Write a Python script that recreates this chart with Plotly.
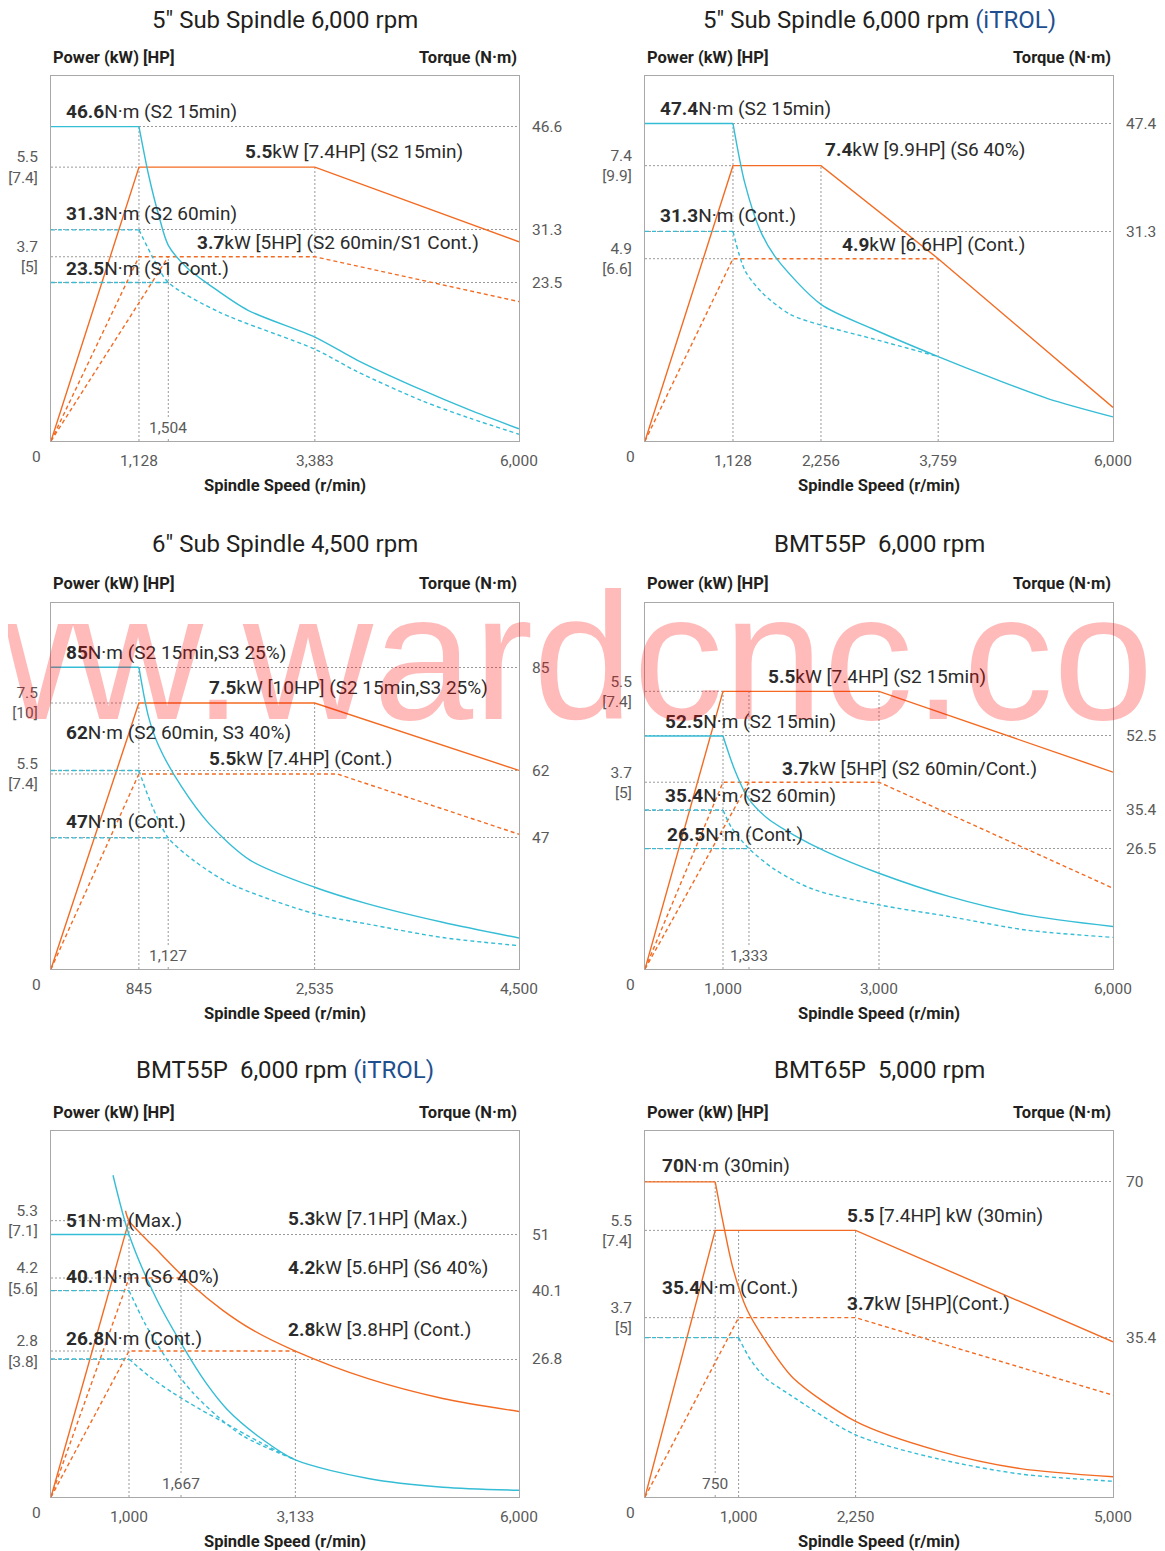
import plotly.graph_objects as go

W, H = 1165, 1551
OFF = 8  # the page body margin: the figure starts 8px in from the window corner
ORANGE = "#f36b22"
CYAN = "#35bdd6"
GRID = "#9a9a9a"
FRAME = "#a8a8a8"
TXT = "#231f20"
TICK = "#5a5a5a"
BLUE = "#1f4f8f"
FONT = "Roboto, 'Noto Sans', sans-serif"
SOLID = "solid"
DASH = "4px,3px"
DOT = "2px,2px"

# ---------------- data ----------------
# 1) 5" Sub Spindle 6,000 rpm
c1_x_ticks = [1128, 3383, 6000]
c1_x_inner = [1504]
c1_kw_ticks = [5.5, 3.7]
c1_hp_ticks = [7.4, 5]
c1_nm_ticks = [46.6, 31.3, 23.5]
c1_rpm_p15 = [0, 1128, 3383, 6000]
c1_kw_p15 = [0, 5.5, 5.5, 4.0]
c1_rpm_p60 = [0, 1128, 3383, 6000]
c1_kw_p60 = [0, 3.7, 3.7, 2.8]
c1_rpm_pcont = [0, 1504]
c1_kw_pcont = [0, 3.7]
c1_rpm_t15 = [0, 1128, 1250, 1380, 1504, 1750, 2048, 2520, 3383, 3923, 4747, 5365, 6000]
c1_nm_t15 = [46.6, 46.6, 39.5, 33.5, 29.0, 25.6, 23.0, 19.4, 15.4, 12.0, 7.6, 4.6, 1.8]
c1_rpm_t60 = [0, 1128, 1310, 1504, 2157, 3383, 3923, 4747, 5365, 6000]
c1_nm_t60 = [31.3, 31.3, 27.1, 23.5, 19.1, 13.6, 10.3, 6.0, 3.4, 1.0]
c1_rpm_tcont = [0, 1504]
c1_nm_tcont = [23.5, 23.5]

# 2) 5" Sub Spindle 6,000 rpm (iTROL)
c2_x_ticks = [1128, 2256, 3759, 6000]
c2_kw_ticks = [7.4, 4.9]
c2_hp_ticks = [9.9, 6.6]
c2_nm_ticks = [47.4, 31.3]
c2_rpm_ps6 = [0, 1128, 2256, 3759, 6000]
c2_kw_ps6 = [0, 7.4, 7.4, 4.9, 0.9]
c2_rpm_pcont = [0, 1128, 3759]
c2_kw_pcont = [0, 4.9, 4.9]
c2_rpm_t15 = [0, 1128, 1280, 1482, 1683, 2256, 2908, 3759, 4475, 5172, 6000]
c2_nm_t15 = [47.4, 47.4, 38.5, 31.3, 27.3, 20.4, 16.8, 12.6, 9.3, 6.3, 3.6]
c2_rpm_tcont = [0, 1128, 1280, 1504, 1862, 2256, 2908, 3759]
c2_nm_tcont = [31.3, 31.3, 25.5, 22.1, 18.9, 17.3, 15.3, 12.6]

# 3) 6" Sub Spindle 4,500 rpm
c3_x_ticks = [845, 2535, 4500]
c3_x_inner = [1127]
c3_kw_ticks = [7.5, 5.5]
c3_hp_ticks = [10, 7.4]
c3_nm_ticks = [85, 62, 47]
c3_rpm_p15 = [0, 845, 2535, 4500]
c3_kw_p15 = [0, 7.5, 7.5, 5.6]
c3_rpm_pcont = [0, 845, 2751, 4500]
c3_kw_pcont = [0, 5.5, 5.5, 3.8]
c3_rpm_t15 = [0, 845, 937, 1035, 1252, 1526, 1917, 2535, 3046, 3766, 4500]
c3_nm_t15 = [85, 85, 74.0, 67.5, 58.5, 50.0, 42.0, 36.0, 32.3, 28.2, 24.7]
c3_rpm_t60 = [0, 845, 970, 1127, 1370, 1721, 2535, 3046, 3766, 4500]
c3_nm_t60 = [62, 62, 54.2, 47, 42.0, 36.8, 30.1, 27.8, 24.8, 23.0]
c3_rpm_tcont = [0, 1127]
c3_nm_tcont = [47, 47]

# 4) BMT55P 6,000 rpm
c4_x_ticks = [1000, 3000, 6000]
c4_x_inner = [1333]
c4_kw_ticks = [5.5, 3.7]
c4_hp_ticks = [7.4, 5]
c4_nm_ticks = [52.5, 35.4, 26.5]
c4_rpm_p15 = [0, 1000, 3000, 6000]
c4_kw_p15 = [0, 5.5, 5.5, 3.9]
c4_rpm_p60 = [0, 1000, 3000, 6000]
c4_kw_p60 = [0, 3.7, 3.7, 1.6]
c4_rpm_pcont = [0, 1333]
c4_kw_pcont = [0, 3.7]
c4_rpm_t15 = [0, 1000, 1149, 1320, 1569, 1920, 2322, 3000, 3905, 4884, 6000]
c4_nm_t15 = [52.5, 52.5, 44.7, 38.2, 33.5, 29.5, 25.8, 20.8, 15.4, 11.2, 8.5]
c4_rpm_t60 = [0, 1000, 1107, 1333, 1669, 2171, 3000, 3905, 4884, 6000]
c4_nm_t60 = [35.4, 35.4, 31.4, 26.5, 21.6, 17.0, 13.5, 10.8, 7.7, 6.0]
c4_rpm_tcont = [0, 1333]
c4_nm_tcont = [26.5, 26.5]

# 5) BMT55P 6,000 rpm (iTROL)
c5_x_ticks = [1000, 3133, 6000]
c5_x_inner = [1667]
c5_kw_ticks = [5.3, 4.2, 2.8]
c5_hp_ticks = [7.1, 5.6, 3.8]
c5_nm_ticks = [51, 40.1, 26.8]
c5_rpm_prise = [0, 1000]
c5_kw_prise = [0, 5.3]
c5_rpm_pmax = [955, 1000, 1351, 1817, 2203, 2589, 3133, 4066, 5023, 6000]
c5_kw_pmax = [5.49, 5.3, 4.75, 4.05, 3.58, 3.2, 2.8, 2.27, 1.89, 1.64]
c5_rpm_ps6 = [0, 1000, 1667]
c5_kw_ps6 = [0, 4.2, 4.2]
c5_rpm_pcont = [0, 1000, 3133]
c5_kw_pcont = [0, 2.8, 2.8]
c5_rpm_tflat = [0, 1000]
c5_nm_tflat = [51, 51]
c5_rpm_tmax = [795, 1000, 1351, 1701, 1971, 2259, 2683, 3133, 4066, 5023, 6000]
c5_nm_tmax = [62.5, 51, 38.5, 29.0, 22.5, 17.0, 11.5, 7.2, 3.6, 1.9, 1.3]
c5_rpm_ts6 = [0, 1000, 1194, 1349, 1556, 1816, 2124, 2469, 3133]
c5_nm_ts6 = [40.1, 40.1, 34.0, 30.0, 25.2, 20.3, 15.8, 11.8, 7.2]
c5_rpm_tcont = [0, 1000, 1246, 1556, 1893, 2202, 2683, 3133]
c5_nm_tcont = [26.8, 26.8, 23.6, 20.3, 17.2, 14.6, 10.6, 7.2]

# 6) BMT65P 5,000 rpm
c6_x_ticks = [1000, 2250, 5000]
c6_x_inner = [750]
c6_kw_ticks = [5.5, 3.7]
c6_hp_ticks = [7.4, 5]
c6_nm_ticks = [70, 35.4]
c6_rpm_p30 = [0, 750, 2250, 5000]
c6_kw_p30 = [0, 5.5, 5.5, 3.2]
c6_rpm_pcont = [0, 1000, 2250, 5000]
c6_kw_pcont = [0, 3.7, 3.7, 2.1]
c6_rpm_t30 = [0, 750, 828, 936, 1088, 1322, 1585, 2250, 3144, 4011, 5000]
c6_nm_t30 = [70, 70, 61.6, 51.1, 41.7, 33.6, 26.4, 16.8, 10.2, 6.3, 4.5]
c6_rpm_tcont = [0, 1000, 1124, 1289, 1541, 2250, 3144, 4011, 5000]
c6_nm_tcont = [35.4, 35.4, 30.6, 26.4, 22.8, 13.8, 8.4, 5.1, 3.5]

ITROL = ' <span style="color:%s">(iTROL)</span>' % BLUE

charts = [
    dict(title="5″ Sub Spindle 6,000 rpm", box=(51, 76, 519, 441), title_y=20,
         xticks=c1_x_ticks, xinner=c1_x_inner, prange=[0, 7.33], trange=[0, 54.1],
         kw=c1_kw_ticks, hp=c1_hp_ticks, nm=c1_nm_ticks,
         series=[(c1_rpm_p15, c1_kw_p15, "p", ORANGE, SOLID, False),
                 (c1_rpm_p60, c1_kw_p60, "p", ORANGE, DASH, False),
                 (c1_rpm_pcont, c1_kw_pcont, "p", ORANGE, DASH, False),
                 (c1_rpm_t15, c1_nm_t15, "t", CYAN, SOLID, True),
                 (c1_rpm_t60, c1_nm_t60, "t", CYAN, DASH, True),
                 (c1_rpm_tcont, c1_nm_tcont, "t", CYAN, DASH, False)],
         vguides=[(1128, "t", 46.6), (3383, "p", 5.5), (1504, "p", 3.7)],
         hguides=[(5.5, 1128), (3.7, 1128)],
         labels=[("<b>46.6</b>N·m (S2 15min)", 64, 111),
                 ("<b>5.5</b>kW [7.4HP] (S2 15min)", 243, 151),
                 ("<b>31.3</b>N·m (S2 60min)", 64, 213),
                 ("<b>3.7</b>kW [5HP] (S2 60min/S1 Cont.)", 195, 242),
                 ("<b>23.5</b>N·m (S1 Cont.)", 64, 268)]),
    dict(title="5″ Sub Spindle 6,000 rpm" + ITROL, box=(645, 76, 1113, 441), title_y=20,
         xticks=c2_x_ticks, xinner=[], prange=[0, 9.81], trange=[0, 54.5],
         kw=c2_kw_ticks, hp=c2_hp_ticks, nm=c2_nm_ticks,
         series=[(c2_rpm_ps6, c2_kw_ps6, "p", ORANGE, SOLID, False),
                 (c2_rpm_pcont, c2_kw_pcont, "p", ORANGE, DASH, False),
                 (c2_rpm_t15, c2_nm_t15, "t", CYAN, SOLID, True),
                 (c2_rpm_tcont, c2_nm_tcont, "t", CYAN, DASH, True)],
         vguides=[(1128, "t", 47.4), (2256, "p", 7.4), (3759, "p", 4.9)],
         hguides=[(7.4, 1128), (4.9, 1128)],
         labels=[("<b>47.4</b>N·m (S2 15min)", 658, 108),
                 ("<b>7.4</b>kW [9.9HP] (S6 40%)", 823, 150),
                 ("<b>31.3</b>N·m (Cont.)", 658, 215),
                 ("<b>4.9</b>kW [6.6HP] (Cont.)", 840, 244)]),
    dict(title="6″ Sub Spindle 4,500 rpm", box=(51, 603, 519, 969), title_y=544,
         xticks=c3_x_ticks, xinner=c3_x_inner, prange=[0, 10.32], trange=[17.8, 99.3],
         kw=c3_kw_ticks, hp=c3_hp_ticks, nm=c3_nm_ticks,
         series=[(c3_rpm_p15, c3_kw_p15, "p", ORANGE, SOLID, False),
                 (c3_rpm_pcont, c3_kw_pcont, "p", ORANGE, DASH, False),
                 (c3_rpm_t15, c3_nm_t15, "t", CYAN, SOLID, True),
                 (c3_rpm_t60, c3_nm_t60, "t", CYAN, DASH, True),
                 (c3_rpm_tcont, c3_nm_tcont, "t", CYAN, DASH, False)],
         vguides=[(845, "t", 85), (2535, "p", 7.5), (1127, "t", 47)],
         hguides=[(7.5, 845), (5.5, 845)],
         labels=[("<b>85</b>N·m (S2 15min,S3 25%)", 64, 652),
                 ("<b>7.5</b>kW [10HP] (S2 15min,S3 25%)", 207, 687),
                 ("<b>62</b>N·m (S2 60min, S3 40%)", 64, 732),
                 ("<b>5.5</b>kW [7.4HP] (Cont.)", 207, 759),
                 ("<b>47</b>N·m (Cont.)", 64, 822)]),
    dict(title="BMT55P\u00a0 6,000 rpm", box=(645, 603, 1113, 969), title_y=544,
         xticks=c4_x_ticks, xinner=c4_x_inner, prange=[0, 7.25], trange=[-1.3, 83.2],
         kw=c4_kw_ticks, hp=c4_hp_ticks, nm=c4_nm_ticks,
         series=[(c4_rpm_p15, c4_kw_p15, "p", ORANGE, SOLID, False),
                 (c4_rpm_p60, c4_kw_p60, "p", ORANGE, DASH, False),
                 (c4_rpm_pcont, c4_kw_pcont, "p", ORANGE, DASH, False),
                 (c4_rpm_t15, c4_nm_t15, "t", CYAN, SOLID, True),
                 (c4_rpm_t60, c4_nm_t60, "t", CYAN, DASH, True),
                 (c4_rpm_tcont, c4_nm_tcont, "t", CYAN, DASH, False)],
         vguides=[(1000, "p", 5.5), (3000, "p", 5.5), (1333, "p", 5.5)],
         hguides=[(5.5, 1000), (3.7, 1000)],
         labels=[("<b>5.5</b>kW [7.4HP] (S2 15min)", 766, 676),
                 ("<b>52.5</b>N·m (S2 15min)", 663, 722),
                 ("<b>35.4</b>N·m (S2 60min)", 663, 795),
                 ("<b>3.7</b>kW [5HP] (S2 60min/Cont.)", 780, 768),
                 ("<b>26.5</b>N·m (Cont.)", 665, 834)]),
    dict(title="BMT55P\u00a0 6,000 rpm" + ITROL, box=(51, 1131, 519, 1497), title_y=1070,
         xticks=c5_x_ticks, xinner=c5_x_inner, prange=[0, 7.02], trange=[0, 71.1],
         kw=c5_kw_ticks, hp=c5_hp_ticks, nm=c5_nm_ticks,
         series=[(c5_rpm_prise, c5_kw_prise, "p", ORANGE, SOLID, False),
                 (c5_rpm_pmax, c5_kw_pmax, "p", ORANGE, SOLID, True),
                 (c5_rpm_ps6, c5_kw_ps6, "p", ORANGE, DASH, False),
                 (c5_rpm_pcont, c5_kw_pcont, "p", ORANGE, DASH, False),
                 (c5_rpm_tflat, c5_nm_tflat, "t", CYAN, SOLID, False),
                 (c5_rpm_tmax, c5_nm_tmax, "t", CYAN, SOLID, True),
                 (c5_rpm_ts6, c5_nm_ts6, "t", CYAN, DASH, True),
                 (c5_rpm_tcont, c5_nm_tcont, "t", CYAN, DASH, True)],
         vguides=[(1000, "p", 5.3), (3133, "p", 2.8), (1667, "p", 4.2)],
         hguides=[(5.3, 1000), (4.2, 1000), (2.8, 1000)],
         labels=[("<b>51</b>N·m (Max.)", 64, 1220),
                 ("<b>5.3</b>kW [7.1HP] (Max.)", 286, 1218),
                 ("<b>40.1</b>N·m (S6 40%)", 64, 1276),
                 ("<b>4.2</b>kW [5.6HP] (S6 40%)", 286, 1267),
                 ("<b>26.8</b>N·m (Cont.)", 64, 1338),
                 ("<b>2.8</b>kW [3.8HP] (Cont.)", 286, 1329)]),
    dict(title="BMT65P\u00a0 5,000 rpm", box=(645, 1131, 1113, 1497), title_y=1070,
         xticks=c6_x_ticks, xinner=c6_x_inner, prange=[0, 7.55], trange=[0, 81.3],
         kw=c6_kw_ticks, hp=c6_hp_ticks, nm=c6_nm_ticks,
         series=[(c6_rpm_p30, c6_kw_p30, "p", ORANGE, SOLID, False),
                 (c6_rpm_pcont, c6_kw_pcont, "p", ORANGE, DASH, False),
                 (c6_rpm_t30, c6_nm_t30, "t", ORANGE, SOLID, True),
                 (c6_rpm_tcont, c6_nm_tcont, "t", CYAN, DASH, True)],
         vguides=[(750, "t", 70), (1000, "p", 5.5), (2250, "p", 5.5)],
         hguides=[(5.5, 750), (3.7, 1000)],
         labels=[("<b>70</b>N·m (30min)", 660, 1165),
                 ("<b>5.5</b> [7.4HP] kW (30min)", 845, 1215),
                 ("<b>35.4</b>N·m (Cont.)", 660, 1287),
                 ("<b>3.7</b>kW [5HP](Cont.)", 845, 1303)]),
]


def px(x):
    return (x - OFF) / (W - OFF)


def py(y):
    return 1 - (y - OFF) / (H - OFF)


def num(v):
    return f"{v:,}" if isinstance(v, int) else f"{v:g}"


def note(text, x, y, size, color=TXT, xanchor="center", **kw):
    return dict(text=text, x=x, y=y, xref=kw.pop("xref", "paper"), yref="paper",
                xanchor=xanchor, yanchor="middle", showarrow=False,
                font=dict(size=size, color=color), **kw)


fig = go.Figure()
annotations = []
shapes = []

for i, c in enumerate(charts, start=1):
    sfx = "" if i == 1 else str(i)
    xa, ya, ta = "x" + sfx, "y" + sfx, f"y{i + 6}"
    x0, y0, x1, y1 = c["box"]
    xmax = c["xticks"][-1]

    for rpm, vals, axis, color, dash, curved in c["series"]:
        yref = ya if axis == "p" else ta
        segs = [(rpm, vals, "linear")]
        if curved:
            k = 0
            while k + 1 < len(vals) and vals[k + 1] == vals[k]:
                k += 1
            segs = [(rpm[:k + 1], vals[:k + 1], "linear")] if k > 0 else []
            segs.append((rpm[k:], vals[k:], "spline"))
        for xs, ys, shape in segs:
            fig.add_trace(go.Scatter(
                x=xs, y=ys, xaxis=xa, yaxis=yref, mode="lines",
                line=dict(color=color, width=1.4, dash=dash, shape=shape, smoothing=0.8),
                showlegend=False, hoverinfo="skip"))

    tickfont = dict(size=15.5, color=TICK)
    fig.update_layout({
        "xaxis" + sfx: dict(domain=[px(x0), px(x1)], range=[0, xmax], anchor=ya,
                            tickvals=c["xticks"], ticktext=[num(v) for v in c["xticks"]],
                            showgrid=False, zeroline=False, showline=True, mirror=True,
                            linecolor=FRAME, linewidth=1, ticks="", ticklabelstandoff=5,
                            automargin=False, tickfont=tickfont),
        "yaxis" + sfx: dict(domain=[py(y1), py(y0)], range=c["prange"], anchor=xa,
                            tickvals=c["kw"],
                            ticktext=[f"{k:g}<br>[{h:g}]" for k, h in zip(c["kw"], c["hp"])],
                            showgrid=False, zeroline=False, showline=True, mirror=True,
                            linecolor=FRAME, linewidth=1, ticks="", ticklabelstandoff=9,
                            automargin=False, tickfont=tickfont),
        f"yaxis{i + 6}": dict(overlaying=ya, side="right", anchor=xa, range=c["trange"],
                              tickvals=c["nm"], ticktext=[num(v) for v in c["nm"]],
                              showgrid=True, gridcolor=GRID, gridwidth=1, griddash=DOT,
                              zeroline=False, showline=False, ticks="", ticklabelstandoff=12,
                              automargin=False, tickfont=tickfont),
    })

    for rpm, axis, level in c["vguides"]:
        yref = ya if axis == "p" else ta
        low = c["prange"][0] if axis == "p" else c["trange"][0]
        shapes.append(dict(type="line", xref=xa, yref=yref, x0=rpm, x1=rpm, y0=low, y1=level,
                           line=dict(color=GRID, width=1, dash=DOT), layer="below"))
    for level, rpm in c["hguides"]:
        shapes.append(dict(type="line", xref=xa, yref=ya, x0=0, x1=rpm, y0=level, y1=level,
                           line=dict(color=GRID, width=1, dash=DOT), layer="below"))

    # titles, headers and in-plot notes
    annotations.append(note(c["title"], px((x0 + x1) / 2), py(c["title_y"]), 24))
    annotations.append(note("<b>Power (kW) [HP]</b>", px(x0), py(y0 - 19), 16.5, xanchor="left"))
    annotations.append(note("<b>Torque (N·m)</b>", px(x1), py(y0 - 19), 16.5, xanchor="right"))
    annotations.append(note("<b>Spindle Speed (r/min)</b>", px((x0 + x1) / 2), py(y1 + 44), 16.5))
    annotations.append(note("0", px(x0 - 15), py(y1 + 16), 15.5, TICK))
    for v in c["xinner"]:
        annotations.append(note(num(v), v, py(y1 - 13), 15.5, TICK, xref=xa,
                                bgcolor="white", borderpad=1))
    for text, lx, ly in c["labels"]:
        annotations.append(note(text, px(lx), py(ly), 19, "#2b2b2b", xanchor="left"))

# watermark
annotations.append(dict(text="www.wardcnc.com", x=px(557), y=py(656), xref="paper",
                        yref="paper", xanchor="center", yanchor="middle", showarrow=False,
                        font=dict(size=180, color="rgba(255,0,0,0.27)",
                                  family="'Liberation Sans', Arial, sans-serif")))

fig.update_layout(width=W - OFF, height=H - OFF,
                  margin=dict(l=0, r=0, t=0, b=0, pad=0, autoexpand=False),
                  paper_bgcolor="white", plot_bgcolor="white",
                  font=dict(family=FONT, color=TXT),
                  shapes=shapes, annotations=annotations, showlegend=False)

fig.write_html("out.html")
